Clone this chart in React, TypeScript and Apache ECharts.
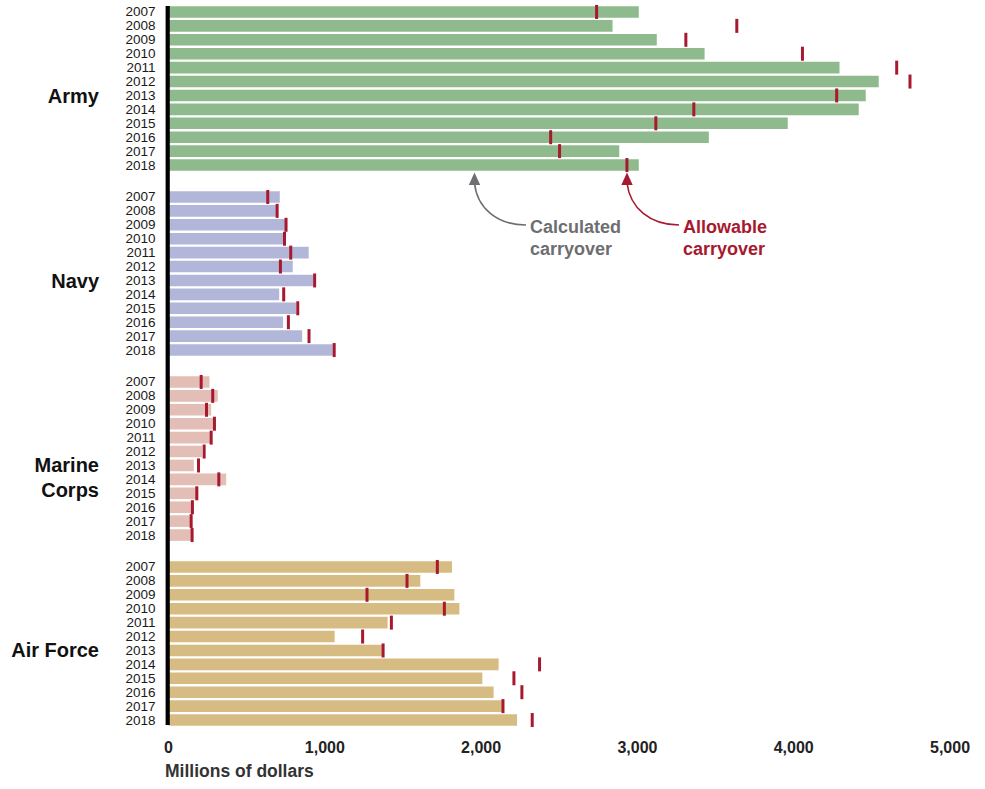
import React, { useEffect, useRef } from "react";
import * as echarts from "echarts";

const years = ["2007", "2008", "2009", "2010", "2011", "2012", "2013", "2014", "2015", "2016", "2017", "2018"];
const services = ["Army", "Navy", "Marine Corps", "Air Force"];
const xTicks = [0, 1000, 2000, 3000, 4000, 5000];

const armyCalculated = [3009, 2841, 3124, 3430, 4293, 4544, 4461, 4416, 3962, 3457, 2884, 3009];
const armyAllowable = [2739, 3636, 3310, 4056, 4659, 4744, 4275, 3361, 3118, 2445, 2502, 2933];
const navyCalculated = [712, 701, 748, 752, 897, 795, 929, 708, 816, 733, 855, 1051];
const navyAllowable = [635, 695, 752, 742, 782, 716, 935, 737, 827, 767, 899, 1060];
const marineCalculated = [262, 315, 273, 296, 269, 215, 162, 369, 190, 151, 145, 145];
const marineAllowable = [209, 283, 243, 294, 273, 228, 192, 322, 181, 153, 145, 151];
const airForceCalculated = [1814, 1611, 1829, 1861, 1402, 1063, 1370, 2112, 2008, 2080, 2138, 2230];
const airForceAllowable = [1720, 1526, 1270, 1765, 1426, 1242, 1373, 2374, 2210, 2261, 2140, 2327];

const calculated = [armyCalculated, navyCalculated, marineCalculated, airForceCalculated];
const allowable = [armyAllowable, navyAllowable, marineAllowable, airForceAllowable];
const barColors = ["#8FBA8D", "#B2B7D9", "#E2BEB6", "#D6BC82"];

const FONT = "'Liberation Sans', Arial, Helvetica, sans-serif";
const RED = "#A6192E";
const GRAY = "#6D6E71";

export default function App() {
  const ref = useRef<HTMLDivElement>(null);

  useEffect(() => {
    if (!ref.current) return;
    const chart = echarts.init(ref.current, undefined, { renderer: "svg" });

    const gridTop = [5, 190, 375, 560];
    const gridH = 167;

    const grids = gridTop.map((t) => ({ left: 168.5, right: 35, top: t, height: gridH }));
    const xAxes = gridTop.map((_, i) => ({
      type: "value",
      gridIndex: i,
      min: 0,
      max: 5000,
      interval: 1000,
      show: i === 3,
      splitLine: { show: false },
      axisLine: { show: false },
      axisTick: { show: false },
      axisLabel: {
        show: i === 3,
        margin: 12,
        fontFamily: FONT,
        fontWeight: "bold",
        fontSize: 16,
        color: "#222",
        formatter: (v: number) => (xTicks.includes(v) ? v.toLocaleString("en-US") : ""),
      },
    }));
    const yAxes = gridTop.map((_, i) => ({
      type: "category",
      gridIndex: i,
      data: years,
      inverse: true,
      axisLine: { show: false },
      axisTick: { show: false },
      splitLine: { show: false },
      axisLabel: {
        interval: 0,
        margin: 13,
        fontFamily: FONT,
        fontSize: 13.5,
        lineHeight: 13,
        color: "#1a1a1a",
      },
    }));

    const series: any[] = [];
    services.forEach((name, i) => {
      series.push({
        type: "bar",
        name: name + " calculated",
        xAxisIndex: i,
        yAxisIndex: i,
        data: calculated[i],
        barWidth: 11.6,
        itemStyle: { color: barColors[i] },
        z: 2,
      });
      series.push({
        type: "scatter",
        name: name + " allowable",
        xAxisIndex: i,
        yAxisIndex: i,
        data: allowable[i].map((v, k) => [v, years[k]]),
        symbol: "rect",
        symbolSize: [3, 14],
        itemStyle: { color: RED, opacity: 1 },
        z: 3,
      });
    });

    const labelStyle = (text: string, y: number) => ({
      type: "text",
      x: 99,
      y,
      style: {
        text,
        fontFamily: FONT,
        fontWeight: "bold",
        fontSize: 20,
        fill: "#111",
        align: "right",
        verticalAlign: "middle",
      },
    });
    const annText = (text: string, x: number, y: number, color: string) => ({
      type: "text",
      x,
      y,
      style: {
        text,
        fontFamily: FONT,
        fontWeight: "bold",
        fontSize: 18,
        fill: color,
        align: "left",
        verticalAlign: "middle",
      },
    });

    const graphic: any[] = [
      { type: "rect", shape: { x: 165.6, y: 6, width: 4.2, height: 719 }, style: { fill: "#000" }, z: 10 },
      labelStyle("Army", 96),
      labelStyle("Navy", 281),
      labelStyle("Marine", 465),
      labelStyle("Corps", 490),
      labelStyle("Air Force", 650),
      {
        type: "text",
        x: 165,
        y: 771,
        style: {
          text: "Millions of dollars",
          fontFamily: FONT,
          fontWeight: "bold",
          fontSize: 17.5,
          fill: "#333",
          align: "left",
          verticalAlign: "middle",
        },
      },
      annText("Calculated", 530, 227, GRAY),
      annText("carryover", 530, 249, GRAY),
      annText("Allowable", 683, 227, RED),
      annText("carryover", 683, 249, RED),
      {
        type: "bezierCurve",
        shape: { x1: 474.5, y1: 183, cpx1: 477, cpy1: 208, cpx2: 497, cpy2: 225, x2: 526, y2: 225 },
        style: { stroke: GRAY, lineWidth: 1.6, fill: "none" },
      },
      {
        type: "polygon",
        shape: { points: [[474.5, 172.5], [468.8, 185], [480.2, 185]] },
        style: { fill: GRAY },
      },
      {
        type: "bezierCurve",
        shape: { x1: 627, y1: 183, cpx1: 630, cpy1: 208, cpx2: 650, cpy2: 225, x2: 679, y2: 225 },
        style: { stroke: RED, lineWidth: 1.6, fill: "none" },
      },
      {
        type: "polygon",
        shape: { points: [[627, 172.5], [621.3, 185], [632.7, 185]] },
        style: { fill: RED },
      },
    ];

    chart.setOption({
      animation: false,
      backgroundColor: "#fff",
      grid: grids,
      xAxis: xAxes,
      yAxis: yAxes,
      series,
      graphic,
    });

    return () => chart.dispose();
  }, []);

  return (
    <div
      ref={ref}
      style={{ position: "fixed", left: 0, top: 0, width: 985, height: 789, background: "#fff" }}
    />
  );
}
